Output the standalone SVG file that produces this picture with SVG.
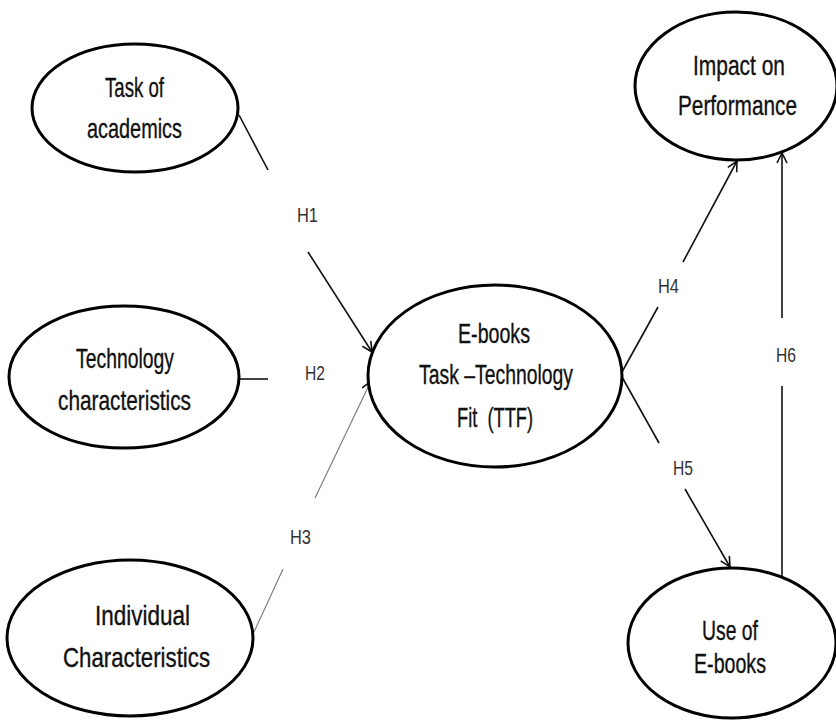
<svg xmlns="http://www.w3.org/2000/svg" width="836" height="720" viewBox="0 0 836 720">
<defs>
<marker id="arr" viewBox="0 0 12 12" refX="11" refY="6" markerWidth="12" markerHeight="12" markerUnits="userSpaceOnUse" orient="auto">
<path d="M1,1 L11,6 L1,11" fill="none" stroke="#111" stroke-width="1.6"/>
</marker>
</defs>
<style>
.node ellipse{fill:#fff;stroke:#000;stroke-width:3}
.t{font-family:"Liberation Sans","DejaVu Sans",sans-serif;font-size:28px;fill:#111;stroke:#111;stroke-width:0.35;text-anchor:start}
.h{font-family:"Liberation Sans","DejaVu Sans",sans-serif;font-size:20px;fill:#333}
.c{fill:none;stroke:#111;stroke-width:1.6}
.g{fill:none;stroke:#777;stroke-width:1.1}
</style>
<rect width="836" height="720" fill="#fff"/>
<g id="connectors">
<line class="c" x1="239" y1="115" x2="268" y2="170"/>
<line class="c" x1="308" y1="252" x2="372" y2="352" marker-end="url(#arr)"/>
<line class="c" x1="240" y1="379" x2="268" y2="379"/>
<line class="g" x1="254" y1="632" x2="283" y2="569"/>
<line class="g" x1="315" y1="498" x2="371" y2="381" marker-end="url(#arr)"/>
<line class="c" x1="622" y1="372" x2="658" y2="307"/>
<line class="c" x1="683" y1="262" x2="737" y2="161" marker-end="url(#arr)"/>
<line class="c" x1="622" y1="377" x2="659" y2="443"/>
<line class="c" x1="685" y1="489" x2="730" y2="567" marker-end="url(#arr)"/>
<line class="c" x1="782" y1="578" x2="782" y2="386"/>
<line class="c" x1="782" y1="318" x2="782" y2="153" marker-end="url(#arr)"/>
<text class="h" x="297" y="222" textLength="21" lengthAdjust="spacingAndGlyphs">H1</text>
<text class="h" x="305" y="380" textLength="20" lengthAdjust="spacingAndGlyphs">H2</text>
<text class="h" x="290" y="544" textLength="21" lengthAdjust="spacingAndGlyphs">H3</text>
<text class="h" x="658" y="293" textLength="21" lengthAdjust="spacingAndGlyphs">H4</text>
<text class="h" x="673" y="475" textLength="20" lengthAdjust="spacingAndGlyphs">H5</text>
<text class="h" x="776" y="362" textLength="20" lengthAdjust="spacingAndGlyphs">H6</text>
</g>
<g id="task" class="node">
<ellipse cx="135" cy="108" rx="103" ry="64"/>
<text class="t" x="105" y="97" textLength="59" lengthAdjust="spacingAndGlyphs">Task of</text>
<text class="t" x="87" y="138" textLength="95" lengthAdjust="spacingAndGlyphs">academics</text>
</g>
<g id="technology" class="node">
<ellipse cx="124" cy="377" rx="115" ry="71"/>
<text class="t" x="76" y="368" textLength="98" lengthAdjust="spacingAndGlyphs">Technology</text>
<text class="t" x="58" y="410" textLength="133" lengthAdjust="spacingAndGlyphs">characteristics</text>
</g>
<g id="individual" class="node">
<ellipse cx="130" cy="638" rx="123" ry="78"/>
<text class="t" x="95" y="625" textLength="95" lengthAdjust="spacingAndGlyphs">Individual</text>
<text class="t" x="63" y="667" textLength="147" lengthAdjust="spacingAndGlyphs">Characteristics</text>
</g>
<g id="ttf" class="node">
<ellipse cx="495" cy="376" rx="127" ry="91"/>
<text class="t" x="458" y="343" textLength="72" lengthAdjust="spacingAndGlyphs">E-books</text>
<text class="t" x="419" y="384" textLength="154" lengthAdjust="spacingAndGlyphs">Task –Technology</text>
<text class="t" x="457" y="427" textLength="76" lengthAdjust="spacingAndGlyphs" xml:space="preserve">Fit  (TTF)</text>
</g>
<g id="impact" class="node">
<ellipse cx="736" cy="86" rx="101" ry="74"/>
<text class="t" x="693" y="75" textLength="92" lengthAdjust="spacingAndGlyphs">Impact on</text>
<text class="t" x="678" y="115" textLength="119" lengthAdjust="spacingAndGlyphs">Performance</text>
</g>
<g id="use" class="node">
<ellipse cx="732" cy="643" rx="104" ry="75"/>
<text class="t" x="702" y="640" textLength="56" lengthAdjust="spacingAndGlyphs">Use of</text>
<text class="t" x="694" y="673" textLength="72" lengthAdjust="spacingAndGlyphs">E-books</text>
</g>
</svg>
